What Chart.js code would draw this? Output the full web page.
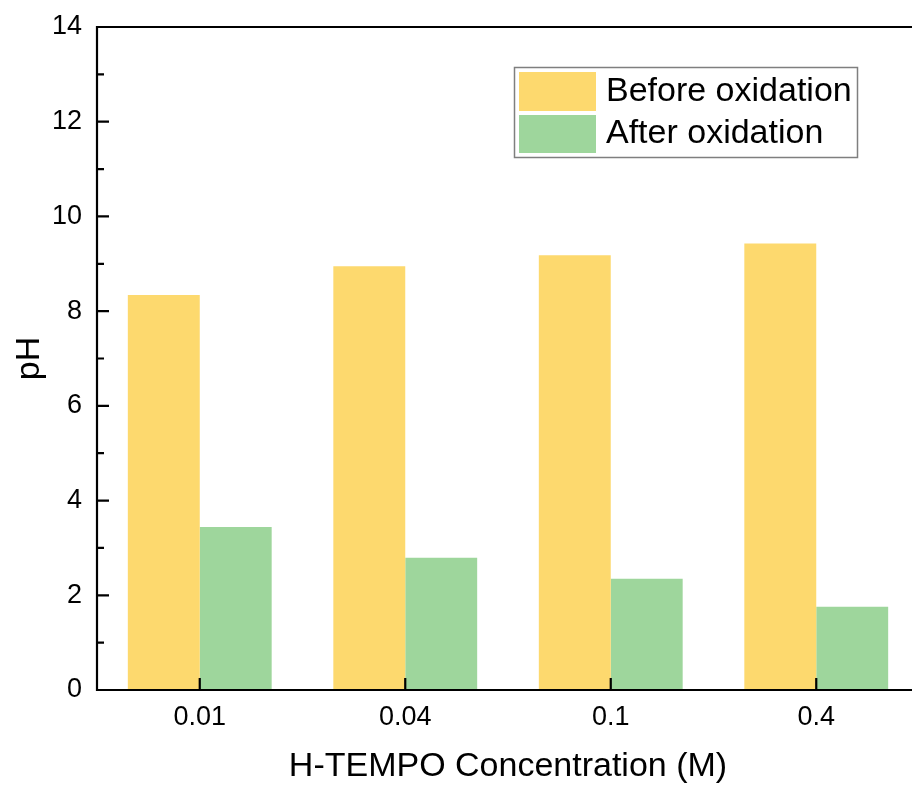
<!DOCTYPE html>
<html><head><meta charset="utf-8">
<style>html,body{margin:0;padding:0;background:#fff;overflow:hidden;} canvas{display:block;}</style>
<script src="https://cdn.jsdelivr.net/npm/chart.js@4/dist/chart.umd.min.js"></script>
</head><body>
<canvas id="c" width="920" height="787" style="width:920px;height:787px"></canvas>
<script>
const categories = ['0.01', '0.04', '0.1', '0.4'];
const beforeValues = [8.34, 8.95, 9.18, 9.43];
const afterValues = [3.44, 2.79, 2.35, 1.76];
const seriesLabels = ['Before oxidation', 'After oxidation'];
const yTicks = [0, 2, 4, 6, 8, 10, 12, 14];
const yMinorTicks = [1, 3, 5, 7, 9, 11, 13];
const xTitle = 'H-TEMPO Concentration (M)';
const yTitle = 'pH';

const YELLOW = '#FDD96E';
const GREEN = '#9ED69C';
const FONT = '"Liberation Sans", Arial, Helvetica, sans-serif';

const framePlugin = {
  id: 'frame',
  afterDatasetsDraw(chart) {
    const {ctx, chartArea: a, scales: {x, y}} = chart;
    ctx.save();
    ctx.strokeStyle = '#000';
    ctx.lineWidth = 2.2;
    ctx.beginPath();
    ctx.moveTo(a.left - 1, a.top); ctx.lineTo(a.right + 5, a.top);
    ctx.moveTo(a.left, a.top - 1); ctx.lineTo(a.left, a.bottom + 1);
    ctx.moveTo(a.left - 1, a.bottom); ctx.lineTo(a.right + 5, a.bottom);
    yTicks.forEach(v => { const py = y.getPixelForValue(v); ctx.moveTo(a.left, py); ctx.lineTo(a.left + 12, py); });
    yMinorTicks.forEach(v => { const py = y.getPixelForValue(v); ctx.moveTo(a.left, py); ctx.lineTo(a.left + 7, py); });
    categories.forEach((c, i) => { const px = x.getPixelForValue(i); ctx.moveTo(px, a.bottom); ctx.lineTo(px, a.bottom - 12); });
    ctx.stroke();
    ctx.restore();
  }
};

const legendPlugin = {
  id: 'boxLegend',
  afterDraw(chart) {
    const {ctx} = chart;
    const ds = chart.data.datasets;
    ctx.save();
    ctx.fillStyle = '#fff';
    ctx.fillRect(514, 67, 344, 91);
    ctx.strokeStyle = '#7f7f7f';
    ctx.lineWidth = 1.5;
    ctx.strokeRect(514.5, 67.5, 343, 90);
    const rows = [{y: 72, h: 39, tc: 91.5}, {y: 115, h: 38, tc: 134}];
    ds.forEach((d, i) => {
      const r = rows[i];
      ctx.fillStyle = d.backgroundColor;
      ctx.fillRect(519, r.y, 77, r.h);
      ctx.fillStyle = '#000';
      ctx.font = '34px ' + FONT;
      ctx.textAlign = 'left';
      ctx.textBaseline = 'middle';
      ctx.fillText(d.label, 606, r.tc);
    });
    ctx.restore();
  }
};

new Chart(document.getElementById('c'), {
  type: 'bar',
  data: {
    labels: categories,
    datasets: [
      {label: seriesLabels[0], data: beforeValues, backgroundColor: YELLOW, borderWidth: 0},
      {label: seriesLabels[1], data: afterValues, backgroundColor: GREEN, borderWidth: 0}
    ]
  },
  options: {
    responsive: false,
    animation: false,
    devicePixelRatio: 1,
    layout: {padding: {top: 27, right: 1, left: 0, bottom: 0}},
    datasets: {bar: {categoryPercentage: 0.7, barPercentage: 1.0}},
    plugins: {legend: {display: false}, tooltip: {enabled: false}},
    scales: {
      x: {
        grid: {display: false, drawTicks: false},
        border: {display: false},
        ticks: {color: '#000', font: {family: FONT, size: 27}, padding: 11},
        title: {display: true, text: xTitle, color: '#000', font: {family: FONT, size: 34}, padding: {top: 0, bottom: 0}},
        afterFit(s) { s.height = 97; s.paddingLeft = 0; s.paddingRight = 0; }
      },
      y: {
        min: 0, max: 14,
        grid: {display: false, drawTicks: false},
        border: {display: false},
        ticks: {color: '#000', font: {family: FONT, size: 27}, padding: 15},
        afterBuildTicks(s) { s.ticks = yTicks.map(v => ({value: v})); },
        title: {display: true, text: yTitle, color: '#000', font: {family: FONT, size: 34}, padding: {top: 9, bottom: 0}},
        afterFit(s) { s.width = 97; s.paddingTop = 0; s.paddingBottom = 0; }
      }
    }
  },
  plugins: [framePlugin, legendPlugin]
});
</script>
</body></html>
